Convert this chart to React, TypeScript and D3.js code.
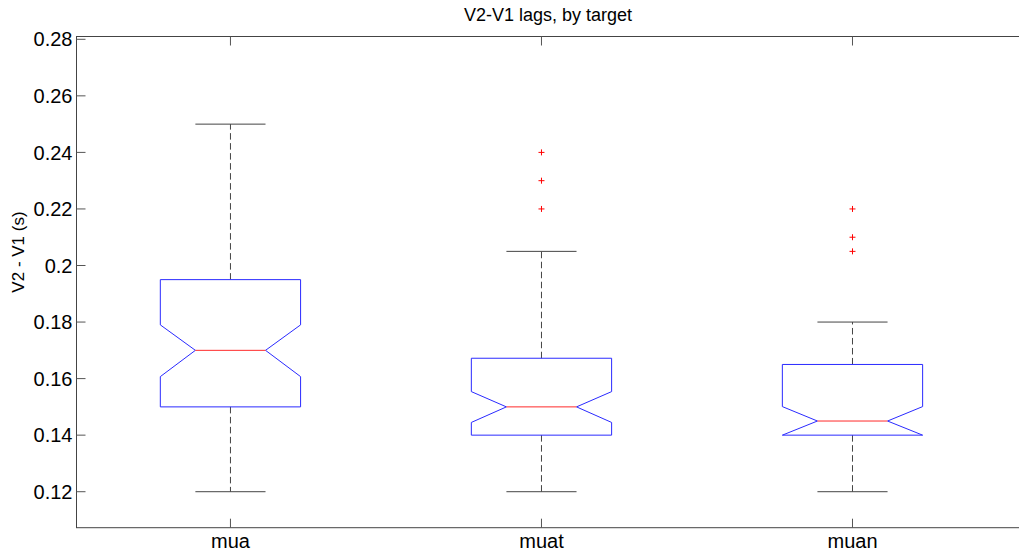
import React from "react";
import * as d3 from "d3";

// Notched boxplot summary per recording target
const groups = ["mua", "muat", "muan"];
const q1 = [0.15, 0.14, 0.14];
const medians = [0.17, 0.15, 0.145];
const q3 = [0.195, 0.1672, 0.165];
const notchLo = [0.1607, 0.1445, 0.14];
const notchHi = [0.179, 0.1554, 0.1501];
const whiskerLo = [0.12, 0.12, 0.12];
const whiskerHi = [0.25, 0.205, 0.18];
const outliers = [[], [0.22, 0.23, 0.24], [0.205, 0.21, 0.22]];
const yTicks = [0.12, 0.14, 0.16, 0.18, 0.2, 0.22, 0.24, 0.26, 0.28];

const W = 1019;
const H = 554;
const left = 76.5;
const right = 1040;
const top = 36.5;
const bottom = 527.7;
const font = "Arial, 'Liberation Sans', Helvetica, sans-serif";

export default function App() {
  const x = d3.scaleLinear().domain([0.505, 3.545]).range([left, 1022]);
  const y = d3.scaleLinear().domain([0.10727, 0.28099]).range([bottom, top]);
  const boxW = 0.451;
  const tickLen = 9;
  const fmt = (v: number) => d3.format("")(+v.toFixed(2));

  return (
    <svg
      width={W}
      height={H}
      style={{ position: "absolute", left: 0, top: 0, background: "#fff" }}
      fontFamily={font}
    >
      {/* axes frame (extends past the right edge of the canvas) */}
      <rect x={left} y={top} width={right - left} height={bottom - top} fill="none" stroke="#444" strokeWidth={1} />

      {/* y ticks and labels */}
      {yTicks.map((t) => (
        <g key={t}>
          <line x1={left} x2={left + tickLen} y1={y(t)} y2={y(t)} stroke="#555" />
          <text x={left - 4} y={y(t) + 7.2} textAnchor="end" fontSize={20} fill="#000">
            {fmt(t)}
          </text>
        </g>
      ))}

      {/* x ticks and labels */}
      {groups.map((g, i) => (
        <g key={g}>
          <line x1={x(i + 1)} x2={x(i + 1)} y1={bottom} y2={bottom - tickLen} stroke="#555" />
          <line x1={x(i + 1)} x2={x(i + 1)} y1={top} y2={top + tickLen} stroke="#555" />
          <text x={x(i + 1)} y={547.5} textAnchor="middle" fontSize={20} fill="#000">
            {g}
          </text>
        </g>
      ))}

      {/* boxes */}
      {groups.map((g, i) => {
        const c = i + 1;
        const l = x(c - boxW / 2);
        const r = x(c + boxW / 2);
        const nl = x(c - boxW / 4);
        const nr = x(c + boxW / 4);
        const path = d3.path();
        path.moveTo(l, y(q3[i]));
        path.lineTo(r, y(q3[i]));
        path.lineTo(r, y(notchHi[i]));
        path.lineTo(nr, y(medians[i]));
        path.lineTo(r, y(notchLo[i]));
        path.lineTo(r, y(q1[i]));
        path.lineTo(l, y(q1[i]));
        path.lineTo(l, y(notchLo[i]));
        path.lineTo(nl, y(medians[i]));
        path.lineTo(l, y(notchHi[i]));
        path.closePath();
        return (
          <g key={g}>
            {/* whiskers */}
            <line x1={x(c)} x2={x(c)} y1={y(q3[i])} y2={y(whiskerHi[i])} stroke="#444" strokeDasharray="6.5,3.5" />
            <line x1={x(c)} x2={x(c)} y1={y(q1[i])} y2={y(whiskerLo[i])} stroke="#444" strokeDasharray="6.5,3.5" />
            <line x1={nl} x2={nr} y1={y(whiskerHi[i])} y2={y(whiskerHi[i])} stroke="#444" />
            <line x1={nl} x2={nr} y1={y(whiskerLo[i])} y2={y(whiskerLo[i])} stroke="#444" />
            <path d={path.toString()} fill="none" stroke="#2a2aff" strokeWidth={1} />
            <line x1={nl} x2={nr} y1={y(medians[i])} y2={y(medians[i])} stroke="#ff2a2a" />
            {outliers[i].map((o) => (
              <g key={o}>
                <line x1={x(c) - 3} x2={x(c) + 3} y1={y(o)} y2={y(o)} stroke="#ff0000" />
                <line x1={x(c)} x2={x(c)} y1={y(o) - 3} y2={y(o) + 3} stroke="#ff0000" />
              </g>
            ))}
          </g>
        );
      })}

      {/* title and axis label */}
      <text x={548} y={21} textAnchor="middle" fontSize={18} fill="#000">
        V2-V1 lags, by target
      </text>
      <text transform={`translate(24, 252) rotate(-90)`} textAnchor="middle" fontSize={17} fill="#000">
        V2 - V1 (s)
      </text>
    </svg>
  );
}
